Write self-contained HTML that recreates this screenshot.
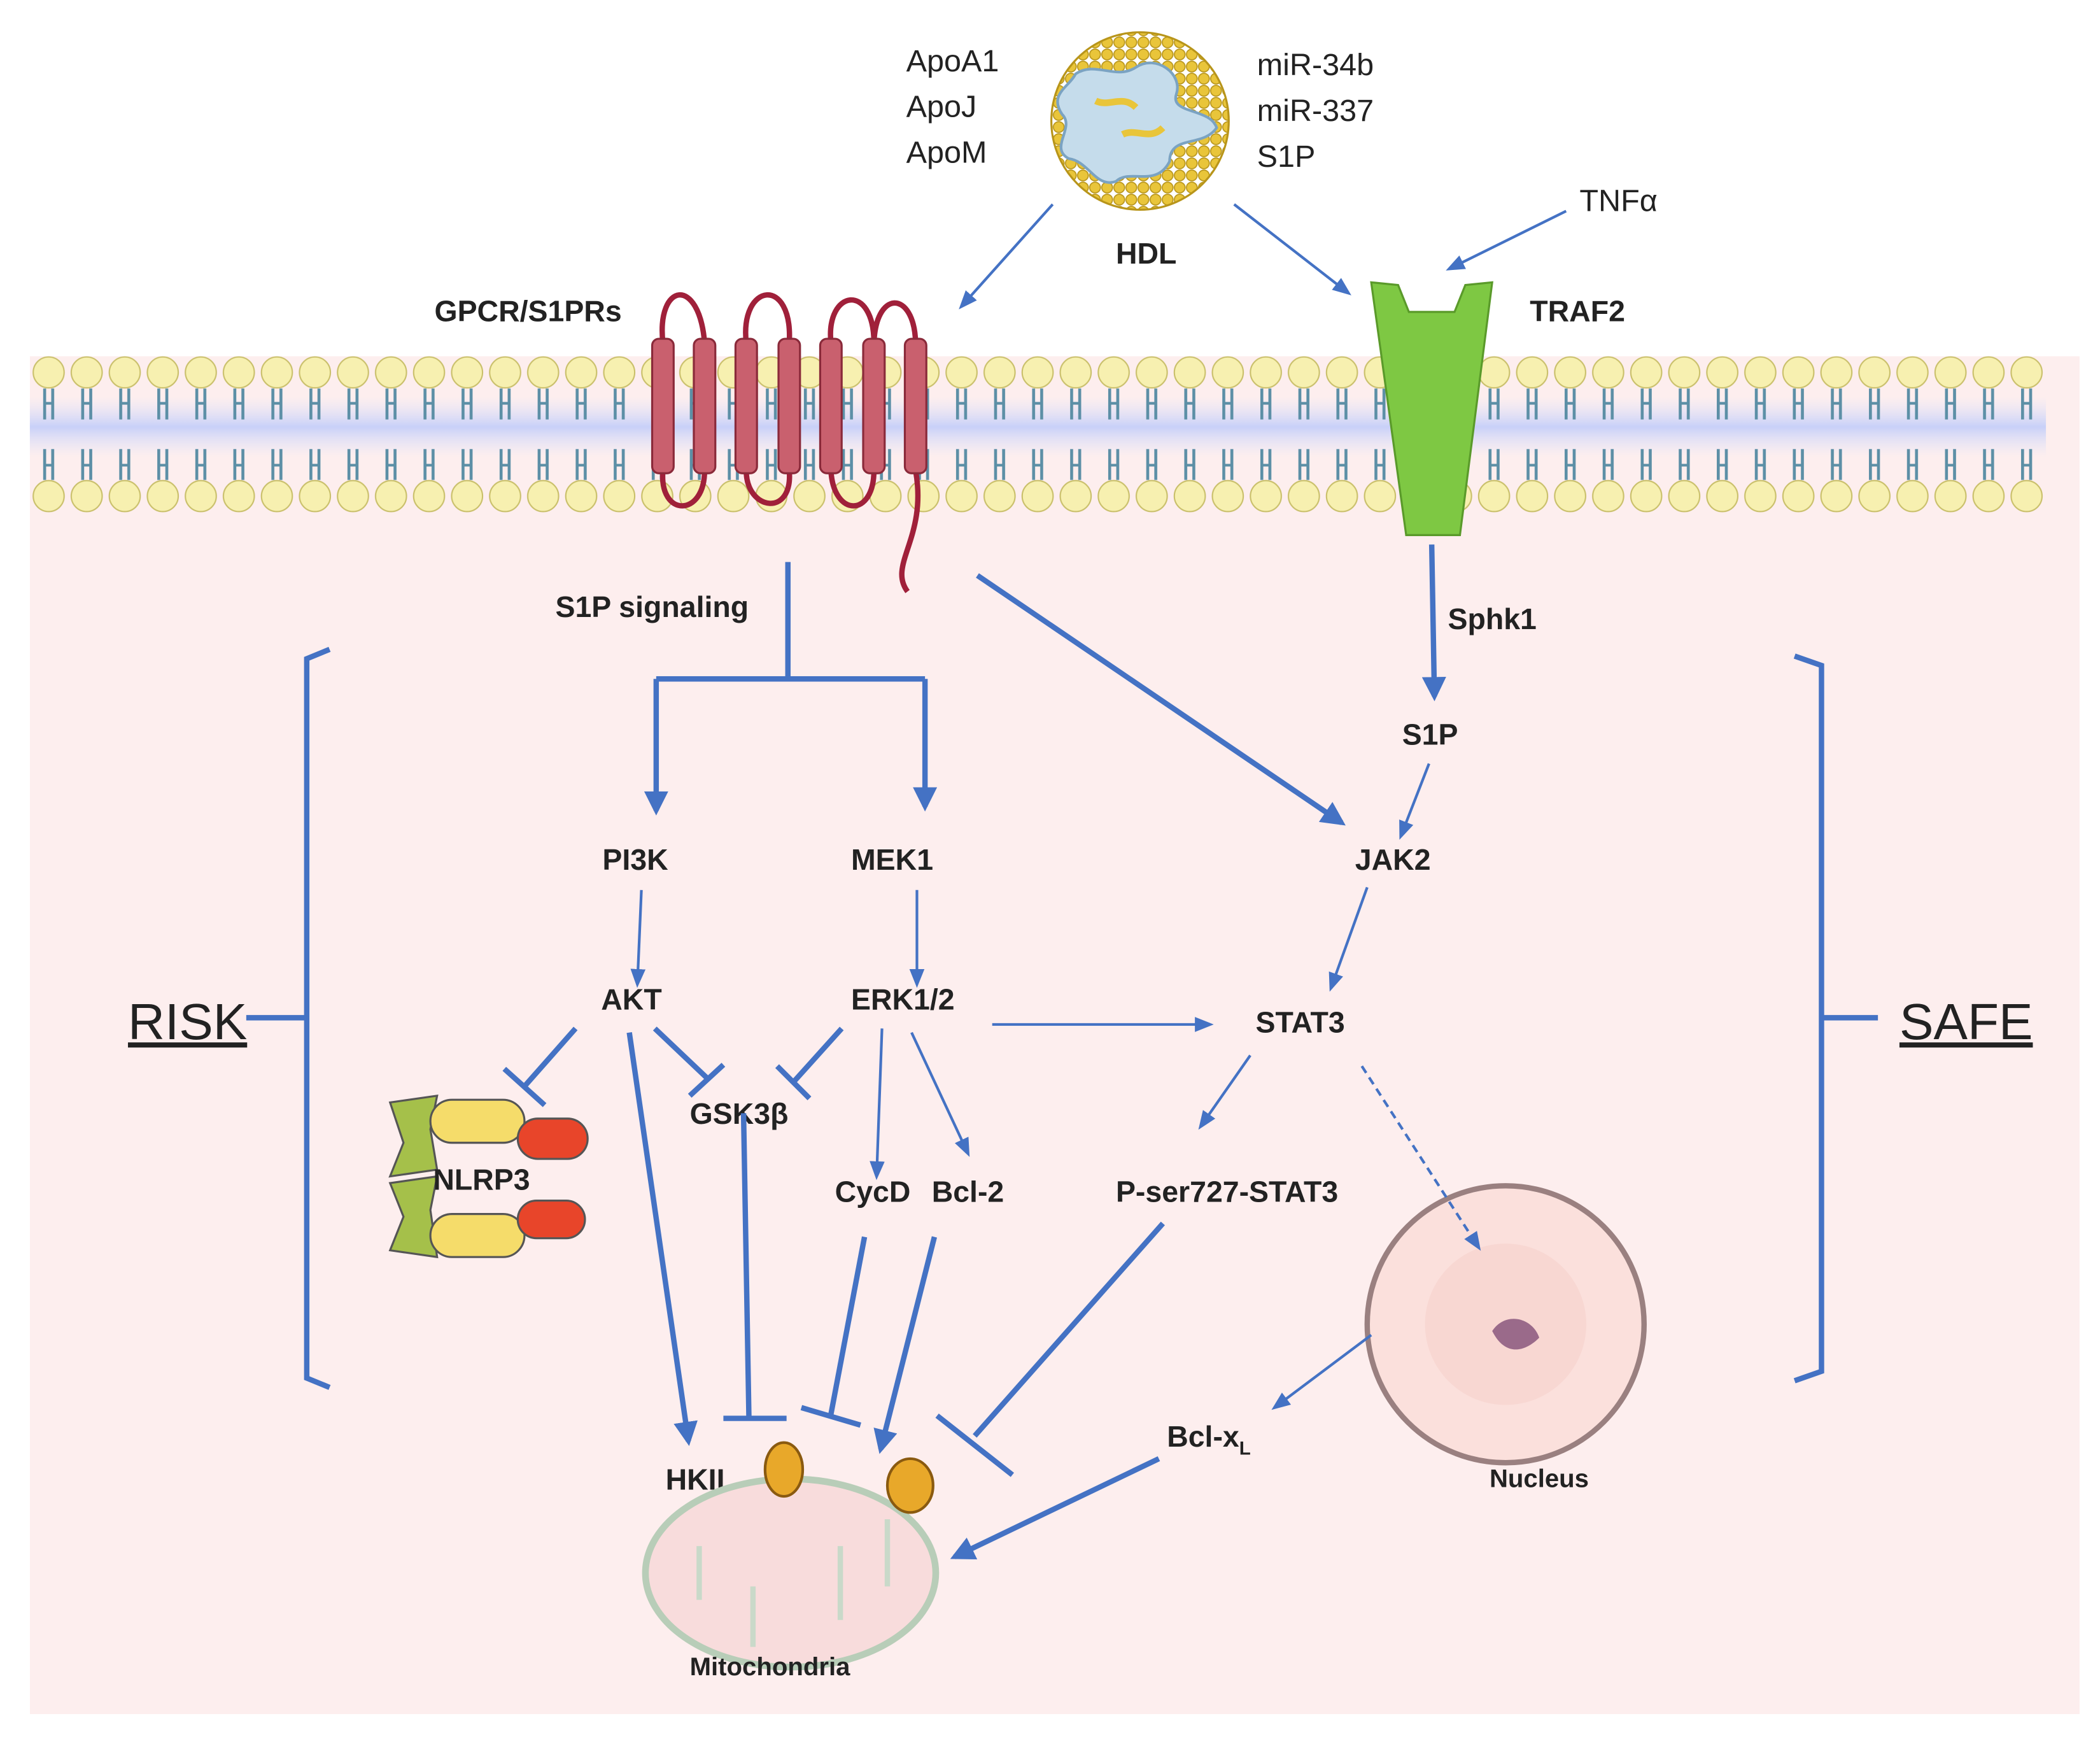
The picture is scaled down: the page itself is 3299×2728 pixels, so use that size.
<!DOCTYPE html>
<html><head><meta charset="utf-8"><style>html,body{margin:0;padding:0;background:#fff}svg{display:block}</style></head><body>
<svg width="3299" height="2728" viewBox="0 0 1562 1292" xmlns="http://www.w3.org/2000/svg" font-family="Liberation Sans, sans-serif">
<defs>
<marker id="ah" viewBox="0 0 10 10" refX="8" refY="5" markerWidth="4.5" markerHeight="4.5" orient="auto"><path d="M0,0L10,5L0,10z" fill="#4472c4"/></marker>
<marker id="ahs" viewBox="0 0 10 10" refX="8" refY="5" markerWidth="7" markerHeight="7" orient="auto"><path d="M0,1L10,5L0,9z" fill="#4472c4"/></marker>
<pattern id="lip" x="22" y="0" width="28.3" height="400" patternUnits="userSpaceOnUse">
<circle cx="14" cy="277" r="11.5" fill="#f7f0b0" stroke="#c9bf6a" stroke-width="1"/>
<circle cx="14" cy="369" r="11.5" fill="#f7f0b0" stroke="#c9bf6a" stroke-width="1"/>
<path d="M11,289V312M17,289V312M11,334V357M17,334V357" stroke="#5c8fa6" stroke-width="2.2" fill="none"/>
<path d="M11,300h6M11,346h6" stroke="#5c8fa6" stroke-width="2"/>
</pattern>
<pattern id="dots" width="9" height="9" patternUnits="userSpaceOnUse"><circle cx="4.5" cy="4.5" r="4" fill="#e9c53a" stroke="#b8951a" stroke-width="0.8"/></pattern>
<linearGradient id="band" x1="0" y1="0" x2="0" y2="1"><stop offset="0" stop-color="#e0e4fb" stop-opacity="0"/><stop offset="0.5" stop-color="#c8d0f8"/><stop offset="1" stop-color="#e0e4fb" stop-opacity="0"/></linearGradient>
</defs>
<rect x="22" y="265" width="1525" height="1010" fill="#fdeeee"/>
<rect x="22" y="295" width="1500" height="45" fill="url(#band)"/>
<rect x="22" y="260" width="1500" height="125" fill="url(#lip)"/>
<!-- HDL -->
<circle cx="848" cy="90" r="66" fill="url(#dots)" stroke="#b8951a" stroke-width="1.5"/>
<path d="M800,55C815,45 830,60 845,50C860,40 880,55 875,70C870,85 900,80 905,95C895,110 870,100 870,120C860,140 840,125 830,135C815,140 810,120 795,118C780,110 800,95 790,85C780,70 795,65 800,55z" fill="#c5dceb" stroke="#7ba3c2" stroke-width="2"/>
<path d="M815,75c10,5 20,-5 30,5M835,100c10,-5 20,5 30,-5" stroke="#e9c53a" stroke-width="5" fill="none"/>
<g font-size="23" fill="#222">
<text x="674" y="53">ApoA1</text><text x="674" y="87">ApoJ</text><text x="674" y="121">ApoM</text>
<text x="935" y="56">miR-34b</text><text x="935" y="90">miR-337</text><text x="935" y="124">S1P</text>
<text x="1175" y="157">TNFα</text></g>
<g font-size="22" font-weight="bold" fill="#222">
<text x="830" y="196">HDL</text><text x="323" y="239">GPCR/S1PRs</text><text x="1138" y="239">TRAF2</text>
<text x="413" y="459">S1P signaling</text><text x="1077" y="468">Sphk1</text><text x="1043" y="554">S1P</text>
<text x="448" y="647">PI3K</text><text x="633" y="647">MEK1</text><text x="1008" y="647">JAK2</text>
<text x="447" y="751">AKT</text><text x="633" y="751">ERK1/2</text><text x="934" y="768">STAT3</text>
<text x="513" y="836">GSK3β</text><text x="621" y="894">CycD</text><text x="693" y="894">Bcl-2</text>
<text x="830" y="894">P-ser727-STAT3</text><text x="1040" y="961">P-tyr705-STAT3</text>
<text x="868" y="1076">Bcl-x<tspan font-size="14" dy="6">L</tspan></text>
<text x="495" y="1108">HKII</text><text x="570" y="1159">mPTP</text>
</g>
<!-- GPCR -->
<path d="M493,255C488,210 520,205 524,255M555,255C550,210 590,205 587,255M618,255C614,215 650,210 650,255M681,255C680,215 650,215 650,258M493,350C490,385 524,385 524,350M555,350C555,380 590,385 587,350M618,350C620,385 650,385 650,350M681,350C690,400 660,420 675,440" fill="none" stroke="#a0203a" stroke-width="4"/>
<g fill="#c9606e" stroke="#8a2a3a" stroke-width="1.5">
<rect x="485" y="252" width="16" height="100" rx="5"/><rect x="516" y="252" width="16" height="100" rx="5"/><rect x="547" y="252" width="16" height="100" rx="5"/><rect x="579" y="252" width="16" height="100" rx="5"/><rect x="610" y="252" width="16" height="100" rx="5"/><rect x="642" y="252" width="16" height="100" rx="5"/><rect x="673" y="252" width="16" height="100" rx="5"/></g>
<!-- TRAF2 -->
<path d="M1020,210L1040,212L1048,232L1082,232L1090,212L1110,210L1086,398L1046,398z" fill="#7ec843" stroke="#5a9a2a" stroke-width="1.5"/>
<!-- nucleus -->
<circle cx="1120" cy="985" r="103" fill="#fbe0dc" stroke="#9a8080" stroke-width="4"/>
<circle cx="1120" cy="985" r="60" fill="#f6d0cc" opacity="0.6"/>
<path d="M1110,990c10,-15 30,-10 35,5c-10,10 -25,15 -35,-5z" fill="#9a6a8a"/>
<text x="1108" y="1106" font-size="19" font-weight="bold" fill="#222">Nucleus</text>
<!-- mitochondria -->
<ellipse cx="588" cy="1170" rx="108" ry="70" fill="#f8dcdc" stroke="#b8cdb8" stroke-width="5"/>
<path d="M520,1150V1190M560,1180V1225M625,1150V1205M660,1130V1180" stroke="#c9d9c9" stroke-width="4"/>
<ellipse cx="583" cy="1093" rx="14" ry="20" fill="#e8a82a" stroke="#8a5a10" stroke-width="2"/>
<ellipse cx="677" cy="1105" rx="17" ry="20" fill="#e8a82a" stroke="#8a5a10" stroke-width="2"/>
<text x="513" y="1246" font-size="19" font-weight="bold" fill="#222">Mitochondria</text>
<!-- NLRP3 -->
<g stroke="#555" stroke-width="1.5">
<path d="M290,820L325,815L320,840L325,870L290,875L300,850z" fill="#a5c04a"/>
<path d="M290,880L325,875L320,900L325,935L290,930L300,905z" fill="#a5c04a"/>
<rect x="320" y="818" width="70" height="32" rx="16" fill="#f5dc6a"/>
<rect x="320" y="903" width="70" height="32" rx="16" fill="#f5dc6a"/>
<rect x="385" y="832" width="52" height="30" rx="15" fill="#e8452a"/>
<rect x="385" y="893" width="50" height="28" rx="14" fill="#e8452a"/></g>
<text x="322" y="885" font-size="22" font-weight="bold" fill="#222">NLRP3</text>
<!-- thin arrows -->
<g stroke="#4472c4" stroke-width="2" fill="none" marker-end="url(#ahs)">
<line x1="783" y1="152" x2="715" y2="228"/><line x1="918" y1="152" x2="1003" y2="218"/><line x1="1165" y1="157" x2="1078" y2="200"/>
<line x1="1063" y1="568" x2="1042" y2="622"/><line x1="1017" y1="660" x2="990" y2="735"/>
<line x1="477" y1="662" x2="474" y2="732"/><line x1="682" y1="662" x2="682" y2="732"/>
<line x1="738" y1="762" x2="900" y2="762"/><line x1="930" y1="785" x2="893" y2="838"/>
<line x1="656" y1="765" x2="652" y2="875"/><line x1="678" y1="768" x2="720" y2="858"/>
<line x1="1020" y1="993" x2="948" y2="1047"/>
<line x1="1013" y1="793" x2="1100" y2="928" stroke-dasharray="6,4"/>
</g>
<!-- thick -->
<g stroke="#4472c4" stroke-width="4" fill="none">
<path d="M586,418V505M488,505H688"/>
<g marker-end="url(#ah)"><line x1="1065" y1="405" x2="1067" y2="518"/><line x1="488" y1="505" x2="488" y2="603"/><line x1="688" y1="505" x2="688" y2="600"/>
<line x1="727" y1="428" x2="998" y2="612"/><line x1="468" y1="768" x2="512" y2="1072"/><line x1="695" y1="920" x2="655" y2="1078"/><line x1="862" y1="1085" x2="710" y2="1158"/></g>
<line x1="428" y1="765" x2="390" y2="808"/><line x1="375" y1="795" x2="405" y2="822"/>
<line x1="487" y1="765" x2="527" y2="803"/><line x1="538" y1="792" x2="513" y2="815"/>
<line x1="626" y1="765" x2="590" y2="805"/><line x1="578" y1="793" x2="602" y2="817"/>
<line x1="553" y1="828" x2="557" y2="1055"/><line x1="538" y1="1055" x2="585" y2="1055"/>
<line x1="643" y1="920" x2="618" y2="1052"/><line x1="596" y1="1047" x2="640" y2="1060"/>
<line x1="865" y1="910" x2="725" y2="1068"/><line x1="697" y1="1053" x2="753" y2="1097"/>
<path d="M245,483L228,490V1025L245,1032M228,757H183"/>
<path d="M1335,488L1355,495V1020L1335,1027M1355,757H1397"/>
</g>
<text x="95" y="773" font-size="38" fill="#222" text-decoration="underline">RISK</text>
<text x="1413" y="773" font-size="38" fill="#222" text-decoration="underline">SAFE</text>
</svg>
</body></html>
